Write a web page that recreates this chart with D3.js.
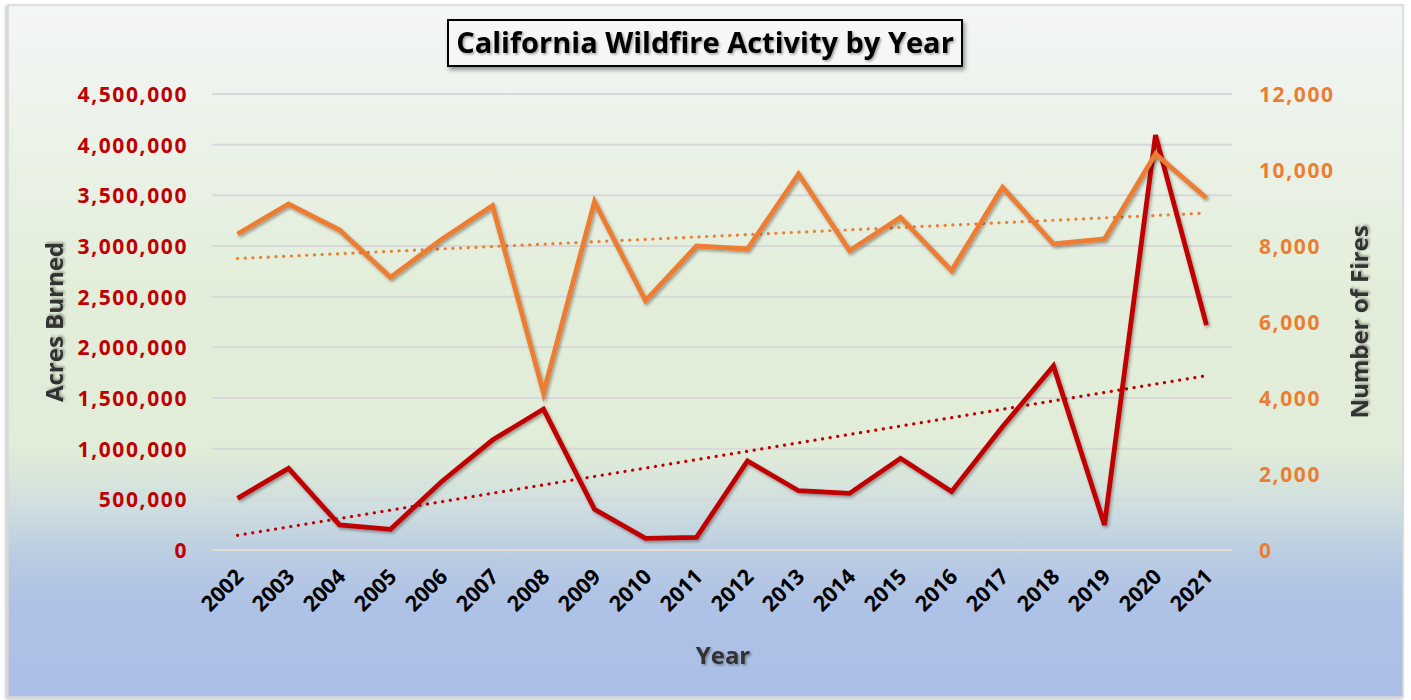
<!DOCTYPE html>
<html>
<head>
<meta charset="utf-8">
<script src="https://cdn.jsdelivr.net/npm/d3@7/dist/d3.min.js"></script>
<style>
  html, body { margin: 0; padding: 0; background: #ffffff; }
  svg { display: block; font-family: "Open Sans", "DejaVu Sans", sans-serif; }
</style>
</head>
<body>
<svg id="chart" width="1411" height="700"></svg>
<script>
// California wildfire activity, 2002–2021
const years = ["2002","2003","2004","2005","2006","2007","2008","2009","2010","2011",
               "2012","2013","2014","2015","2016","2017","2018","2019","2020","2021"];
const acresBurned = [510000, 806000, 247000, 204000, 674000, 1085000, 1391000, 401000, 115000, 125000,
                     878000, 585000, 559000, 905000, 576000, 1217000, 1816000, 247000, 4095000, 2220000];
const numberOfFires = [8316, 9105, 8421, 7175, 8175, 9061, 4132, 9167, 6561, 8000,
                       7921, 9895, 7877, 8754, 7351, 9544, 8053, 8184, 10421, 9263];
const acresTicks = [0, 500000, 1000000, 1500000, 2000000, 2500000, 3000000, 3500000, 4000000, 4500000];
const firesTicks = [0, 2000, 4000, 6000, 8000, 10000, 12000];

const svg = d3.select("#chart");
const defs = svg.append("defs");

// background gradient: pale top, green middle, blue bottom
const bg = defs.append("linearGradient").attr("id", "bgGrad")
  .attr("x1", 0).attr("y1", 0).attr("x2", 0).attr("y2", 1);
[[0, "#f3f6f6"], [0.2, "#ebf2e8"], [0.42, "#e2eed9"], [0.64, "#e1edd8"],
 [0.72, "#d0dfdf"], [0.80, "#b9cbe2"], [0.87, "#aec1e6"], [1, "#abbee6"]]
  .forEach(([o, c]) => bg.append("stop").attr("offset", o).attr("stop-color", c));

const lineShadow = defs.append("filter").attr("id", "lineShadow")
  .attr("x", "-5%").attr("y", "-5%").attr("width", "110%").attr("height", "110%");
lineShadow.append("feDropShadow").attr("dx", 1.5).attr("dy", 2).attr("stdDeviation", 1.6)
  .attr("flood-color", "#000").attr("flood-opacity", 0.35);

const textShadow = defs.append("filter").attr("id", "textShadow")
  .attr("x", "-10%").attr("y", "-20%").attr("width", "120%").attr("height", "140%");
textShadow.append("feDropShadow").attr("dx", 1.5).attr("dy", 1.5).attr("stdDeviation", 1.2)
  .attr("flood-color", "#000").attr("flood-opacity", 0.35);

const boxShadow = defs.append("filter").attr("id", "boxShadow")
  .attr("x", "-5%").attr("y", "-20%").attr("width", "110%").attr("height", "150%");
boxShadow.append("feDropShadow").attr("dx", 2).attr("dy", 3).attr("stdDeviation", 2)
  .attr("flood-color", "#000").attr("flood-opacity", 0.4);

const frameShadow = defs.append("filter").attr("id", "frameShadow")
  .attr("x", "-2%").attr("y", "-2%").attr("width", "104%").attr("height", "104%");
frameShadow.append("feDropShadow").attr("dx", -1.5).attr("dy", 1.5).attr("stdDeviation", 1.5)
  .attr("flood-color", "#000").attr("flood-opacity", 0.25);

// chart frame
svg.append("rect")
  .attr("x", 8).attr("y", 5).attr("width", 1395).attr("height", 692)
  .attr("fill", "url(#bgGrad)").attr("stroke", "#d6d6d6").attr("stroke-width", 1.5)
  .attr("filter", "url(#frameShadow)");

// plot geometry
const plot = { left: 212, right: 1232, top: 94, bottom: 550 };

const x = d3.scalePoint().domain(years).range([plot.left, plot.right]).padding(0.5);
const yAcres = d3.scaleLinear().domain([0, 4500000]).range([plot.bottom, plot.top]);
const yFires = d3.scaleLinear().domain([0, 12000]).range([plot.bottom, plot.top]);

// gridlines
const grid = svg.append("g").attr("class", "grid");
grid.selectAll("line").data(acresTicks).join("line")
  .attr("x1", plot.left).attr("x2", plot.right)
  .attr("y1", d => yAcres(d)).attr("y2", d => yAcres(d))
  .attr("stroke", d => d === 0 ? "#e4ddd3" : "#d7d7dc")
  .attr("stroke-width", 2);

// left axis (acres)
const leftAxis = svg.append("g")
  .attr("transform", `translate(${plot.left - 24},0)`)
  .call(d3.axisLeft(yAcres).tickValues(acresTicks).tickFormat(d3.format(",")).tickSize(0).tickPadding(0));
leftAxis.select(".domain").remove();
leftAxis.selectAll("text")
  .attr("fill", "#c00000").attr("font-size", 21).attr("font-weight", 700)
  .attr("font-family", "'Open Sans', sans-serif").attr("letter-spacing", 1.6)
  .attr("dy", "0.36em");

// right axis (fires)
const rightAxis = svg.append("g")
  .attr("transform", `translate(${plot.right + 27},0)`)
  .call(d3.axisRight(yFires).tickValues(firesTicks).tickFormat(d3.format(",")).tickSize(0).tickPadding(0));
rightAxis.select(".domain").remove();
rightAxis.selectAll("text")
  .attr("fill", "#ed7d31").attr("font-size", 21).attr("font-weight", 700)
  .attr("font-family", "'Open Sans', sans-serif").attr("letter-spacing", 1.6)
  .attr("dy", "0.36em");

// category axis labels
const xAxis = svg.append("g")
  .attr("transform", `translate(0,${plot.bottom})`)
  .call(d3.axisBottom(x).tickSize(0).tickPadding(0));
xAxis.select(".domain").remove();
xAxis.selectAll("text")
  .attr("fill", "#000").attr("font-size", 21.5).attr("font-weight", 700)
  .attr("font-family", "'Open Sans', sans-serif")
  .attr("text-anchor", "end").attr("dy", 0).attr("y", 0)
  .attr("transform", "translate(7,28) rotate(-45)");

// least-squares trend of a series against its index
function trend(values) {
  const n = values.length;
  const xs = d3.range(n);
  const mx = d3.mean(xs), my = d3.mean(values);
  const slope = d3.sum(xs, i => (i - mx) * (values[i] - my)) / d3.sum(xs, i => (i - mx) ** 2);
  const icpt = my - slope * mx;
  return [0, n - 1].map(i => ({ i, v: icpt + slope * i }));
}

// trendlines (dotted)
const trendLine = (yScale) => d3.line().x(d => x(years[d.i])).y(d => yScale(d.v));
svg.append("path").datum(trend(numberOfFires))
  .attr("d", trendLine(yFires))
  .attr("fill", "none").attr("stroke", "#ed7d31").attr("stroke-width", 3.2)
  .attr("stroke-linecap", "round").attr("stroke-dasharray", "0.1 7.6");
svg.append("path").datum(trend(acresBurned))
  .attr("d", trendLine(yAcres))
  .attr("fill", "none").attr("stroke", "#c00000").attr("stroke-width", 3.2)
  .attr("stroke-linecap", "round").attr("stroke-dasharray", "0.1 7.6");

// series lines
const acresLine = d3.line().x((d, i) => x(years[i])).y(d => yAcres(d));
const firesLine = d3.line().x((d, i) => x(years[i])).y(d => yFires(d));

svg.append("path").datum(acresBurned)
  .attr("d", acresLine)
  .attr("fill", "none").attr("stroke", "#c00000").attr("stroke-width", 4.8)
  .attr("stroke-linejoin", "miter").attr("stroke-miterlimit", 4)
  .attr("filter", "url(#lineShadow)");

svg.append("path").datum(numberOfFires)
  .attr("d", firesLine)
  .attr("fill", "none").attr("stroke", "#ed7d31").attr("stroke-width", 4.8)
  .attr("stroke-linejoin", "miter").attr("stroke-miterlimit", 4)
  .attr("filter", "url(#lineShadow)");

// axis titles
svg.append("text")
  .attr("transform", `translate(63,${(plot.top + plot.bottom) / 2}) rotate(-90)`)
  .attr("text-anchor", "middle")
  .attr("fill", "#333333").attr("font-size", 24).attr("font-weight", 700)
  .attr("filter", "url(#textShadow)")
  .text("Acres Burned");

svg.append("text")
  .attr("transform", `translate(1368,${(plot.top + plot.bottom) / 2}) rotate(-90)`)
  .attr("text-anchor", "middle")
  .attr("fill", "#333333").attr("font-size", 24).attr("font-weight", 700)
  .attr("filter", "url(#textShadow)")
  .text("Number of Fires");

svg.append("text")
  .attr("x", (plot.left + plot.right) / 2 + 1).attr("y", 664)
  .attr("text-anchor", "middle")
  .attr("fill", "#333333").attr("font-size", 24).attr("font-weight", 700)
  .attr("filter", "url(#textShadow)")
  .text("Year");

// title box
const titleG = svg.append("g");
titleG.append("rect")
  .attr("x", 448).attr("y", 20).attr("width", 514).attr("height", 46)
  .attr("fill", "#f5f7f7").attr("stroke", "#000").attr("stroke-width", 2)
  .attr("filter", "url(#boxShadow)");
titleG.append("text")
  .attr("x", 705).attr("y", 53)
  .attr("text-anchor", "middle")
  .attr("fill", "#000").attr("font-size", 29).attr("font-weight", 700)
  .attr("filter", "url(#textShadow)")
  .text("California Wildfire Activity by Year");
</script>
</body>
</html>
